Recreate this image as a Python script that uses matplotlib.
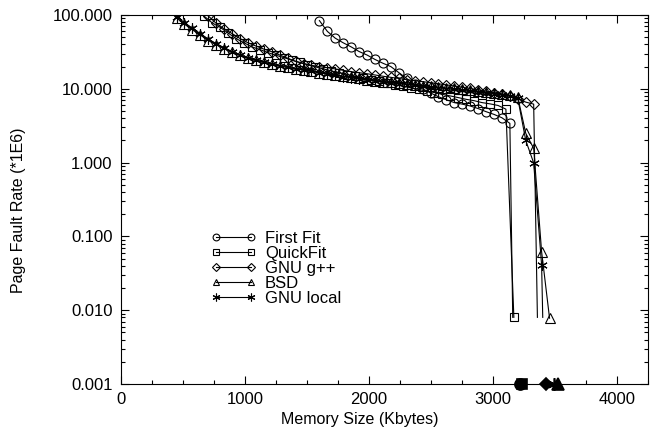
import matplotlib
matplotlib.use("Agg")
import matplotlib.pyplot as plt
import numpy as np
from matplotlib.ticker import MultipleLocator, LogLocator, FuncFormatter, NullFormatter

plt.rcParams['font.family'] = ['Liberation Sans', 'DejaVu Sans']
plt.rcParams['font.size'] = 12

# memory size (Kbytes) and page fault rate (*1E6)
localX = [448, 512, 576, 640, 704, 768, 832, 896, 960, 1024, 1088, 1152, 1216, 1280, 1344, 1408,
	1472, 1536, 1600, 1664, 1728, 1792, 1856, 1920, 1984, 2048, 2112, 2176, 2240, 2304, 2368, 2432,
	2496, 2560, 2624, 2688, 2752, 2816, 2880, 2944, 3008, 3072, 3136, 3200, 3264, 3328, 3392]
localY = [95, 79, 66, 56, 47, 41, 36, 32, 29, 26.5, 24.5, 23, 21.5, 20.5, 19.5, 18.7,
	18, 17.2, 16.5, 15.8, 15.2, 14.6, 14.1, 13.6, 13.1, 12.7, 12.3, 12, 11.7, 11.4, 11.1, 10.8,
	10.5, 10.3, 10.0, 9.8, 9.5, 9.3, 9.0, 8.7, 8.5, 8.2, 7.9, 7.4, 2.0, 0.99, 0.041]

bsdX = localX + [3456]
bsdY = [91, 75, 63, 53.5, 45, 39.5, 35, 31.3, 28.5, 26, 24.2, 22.8, 21.4, 20.4, 19.5, 18.7,
	18, 17.3, 16.6, 16, 15.4, 14.8, 14.3, 13.8, 13.3, 12.9, 12.5, 12.2, 11.9, 11.6, 11.3, 11.0,
	10.8, 10.6, 10.3, 10.1, 9.8, 9.6, 9.3, 9.0, 8.8, 8.5, 8.2, 7.7, 2.5, 1.56, 0.062, 0.0078]

gppX = [704, 768, 832, 896, 960, 1024, 1088, 1152, 1216, 1280, 1344, 1408, 1472, 1536, 1600, 1664,
	1728, 1792, 1856, 1920, 1984, 2048, 2112, 2176, 2240, 2304, 2368, 2432, 2496, 2560, 2624, 2688,
	2752, 2816, 2880, 2944, 3008, 3072, 3136, 3200, 3264, 3328]
gppY = [97, 77, 65, 56, 48, 42, 38, 34.5, 31.8, 28.7, 26, 23.5, 22, 20.8, 20, 19.3,
	18.6, 17.8, 17.1, 16.5, 16, 15.4, 14.8, 14.3, 13.8, 13.3, 12.9, 12.5, 12.1, 11.7, 11.3, 10.9,
	10.5, 10.1, 9.7, 9.3, 8.9, 8.5, 8.0, 7.3, 6.6, 6.2]

quickX = [672, 736, 800, 864, 928, 992, 1056, 1120, 1184, 1248, 1312, 1376, 1440, 1504, 1568, 1632,
	1696, 1760, 1824, 1888, 1952, 2016, 2080, 2144, 2208, 2272, 2336, 2400, 2464, 2528, 2592, 2656,
	2720, 2784, 2848, 2912, 2976, 3040, 3104, 3168]
quickY = [96, 78, 68, 57, 48, 42, 37, 34, 31, 28.5, 26.5, 24.5, 22.8, 21.2, 19.8, 18.6,
	17.5, 16.5, 15.6, 14.8, 14.0, 13.3, 12.6, 12.0, 11.4, 10.9, 10.3, 9.8, 9.3, 8.9, 8.4, 8.0,
	7.6, 7.2, 6.9, 6.5, 6.25, 5.95, 5.3, 0.0082]

firstX = [1600, 1664, 1728, 1792, 1856, 1920, 1984, 2048, 2112, 2176, 2240, 2304, 2368, 2432, 2496,
	2560, 2624, 2688, 2752, 2816, 2880, 2944, 3008, 3072, 3136]
firstY = [84, 60, 48.5, 42, 37, 32, 28.7, 25, 22.2, 20, 16.6, 13.8, 11.5, 10, 8.8,
	7.8, 7.1, 6.5, 6.2, 5.85, 5.4, 4.9, 4.5, 4.05, 3.4]

# first memory size where the rate hits zero
zeroX = {"First Fit": 3220, "QuickFit": 3235, "GNU g++": 3430, "BSD": 3525, "GNU local": 3490}

labels = ["First Fit", "QuickFit", "GNU g++", "BSD", "GNU local"]
xs = [firstX, quickX, gppX, bsdX, localX]
ys = [firstY, quickY, gppY, bsdY, localY]
markers = ["o", "s", "D", "^", (6, 2, 0)]
msizes = [6.5, 5.5, 5.0, 6.5, 7.5]

yMin = 0.001
lineFloor = 0.008

fig = plt.figure(figsize=(6.53, 4.32), dpi=100)
ax = fig.add_axes([121/653, 1 - 384/432, 527/653, 369/432])

for lab, x, y, m, ms in zip(labels, xs, ys, markers, msizes):
	x = list(x)
	y = list(y)
	# line into the zero point, cut where gnuplot stops drawing it
	z = zeroX[lab]
	if y[-1] > lineFloor:
		l0 = np.log10(y[-1])
		l1 = -9.0
		f = (l0 - np.log10(lineFloor)) / (l0 - l1)
		lx = x + [x[-1] + f * (z - x[-1])]
		ly = y + [lineFloor]
	else:
		lx, ly = x, y
	ax.plot(lx, ly, color='black', lw=0.8)
	ax.plot(x, y, linestyle='none', marker=m, ms=ms, mfc='none', mec='black', mew=0.8)
	ax.plot([z], [yMin], linestyle='none', marker=m, ms=ms + 1.5, mfc='black', mec='black',
		mew=1.2, clip_on=False, zorder=5)

ax.set_yscale('log')
ax.set_xlim(0, 4250)
ax.set_ylim(yMin, 100)

ax.xaxis.set_major_locator(MultipleLocator(1000))
ax.xaxis.set_minor_locator(MultipleLocator(250))
ax.yaxis.set_major_locator(LogLocator(base=10, numticks=10))
ax.yaxis.set_minor_locator(LogLocator(base=10, subs=np.arange(2, 10), numticks=20))
ax.yaxis.set_major_formatter(FuncFormatter(lambda v, p: "%.3f" % v))
ax.yaxis.set_minor_formatter(NullFormatter())

ax.tick_params(which='both', direction='in', top=True, right=True, width=0.8, labelsize=12)
ax.tick_params(which='major', length=6)
ax.tick_params(which='minor', length=3)
ax.tick_params(axis='x', pad=6)
ax.tick_params(axis='y', pad=6)
for s in ax.spines.values():
	s.set_linewidth(0.8)

ax.set_xlabel('Memory Size (Kbytes)', fontsize=11.5, labelpad=1)
ax.xaxis.set_label_coords(0.453, -0.075)
ax.set_ylabel('Page Fault Rate (*1E6)', fontsize=11.5, labelpad=8)
ax.yaxis.set_label_coords(-0.18, 0.47)

handles = [plt.Line2D([], [], color='black', lw=0.8, marker=m, ms=ms * 0.75, mfc='none',
	mec='black', mew=0.8) for m, ms in zip(markers, msizes)]
leg = ax.legend(handles, labels, loc='upper left', bbox_to_anchor=(0.17, 0.415), frameon=False,
	numpoints=2, handlelength=2.7, handletextpad=0.55, labelspacing=0.0, borderpad=0,
	borderaxespad=0, fontsize=12)

plt.savefig('out.png', dpi=100)
